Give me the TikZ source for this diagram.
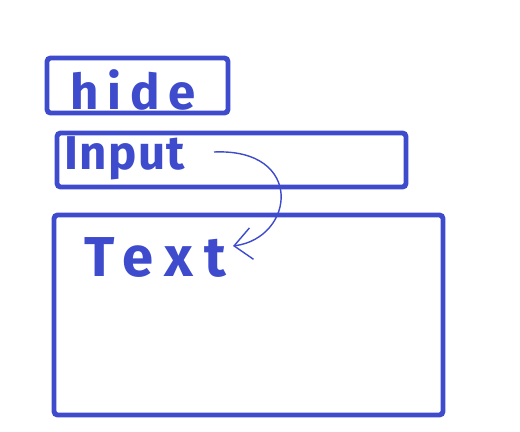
\documentclass[tikz,border=0pt]{standalone}
\usepackage{fontspec}
\setmainfont{Fira Sans}
\usepackage{xcolor}
\usetikzlibrary{arrows.meta}
\definecolor{pen}{RGB}{61,75,204}

\begin{document}
\begin{tikzpicture}[x=0.02cm, y=-0.02cm,
  frame/.style={rectangle, draw=pen, line width=2.8pt, rounded corners=2pt,
                inner sep=0pt},
  word/.style={anchor=west, inner sep=0pt, text=pen, font=\bfseries}]
  \useasboundingbox (0,0) rectangle (520,432);
  \node[frame, minimum width=3.62cm, minimum height=1.10cm] (n1) at (137.5,85.5) {};
  \node[frame, minimum width=6.98cm, minimum height=1.08cm] (n2) at (231.5,160) {};
  \node[frame, minimum width=7.78cm, minimum height=4.00cm] (n3) at (248.5,315) {};
  \node[word] (t1) at (70,90)
    {\fontsize{28}{30}\selectfont\addfontfeature{LetterSpace=18}hide};
  \node[word] (t2) at (64,158)
    {\fontsize{27}{30}\selectfont\addfontfeature{LetterSpace=3}Input};
  \node[word] (t3) at (84,257)
    {\fontsize{32}{34}\selectfont\addfontfeature{LetterSpace=20}Text};
  \coordinate (a0) at (214,152);
  \coordinate (a1) at (233,246);
  \draw[pen, line width=0.8pt, -{Straight Barb[length=10pt,width=18pt]}]
    (a0) .. controls (305,148) and (295,238) .. (a1);
\end{tikzpicture}
\end{document}
